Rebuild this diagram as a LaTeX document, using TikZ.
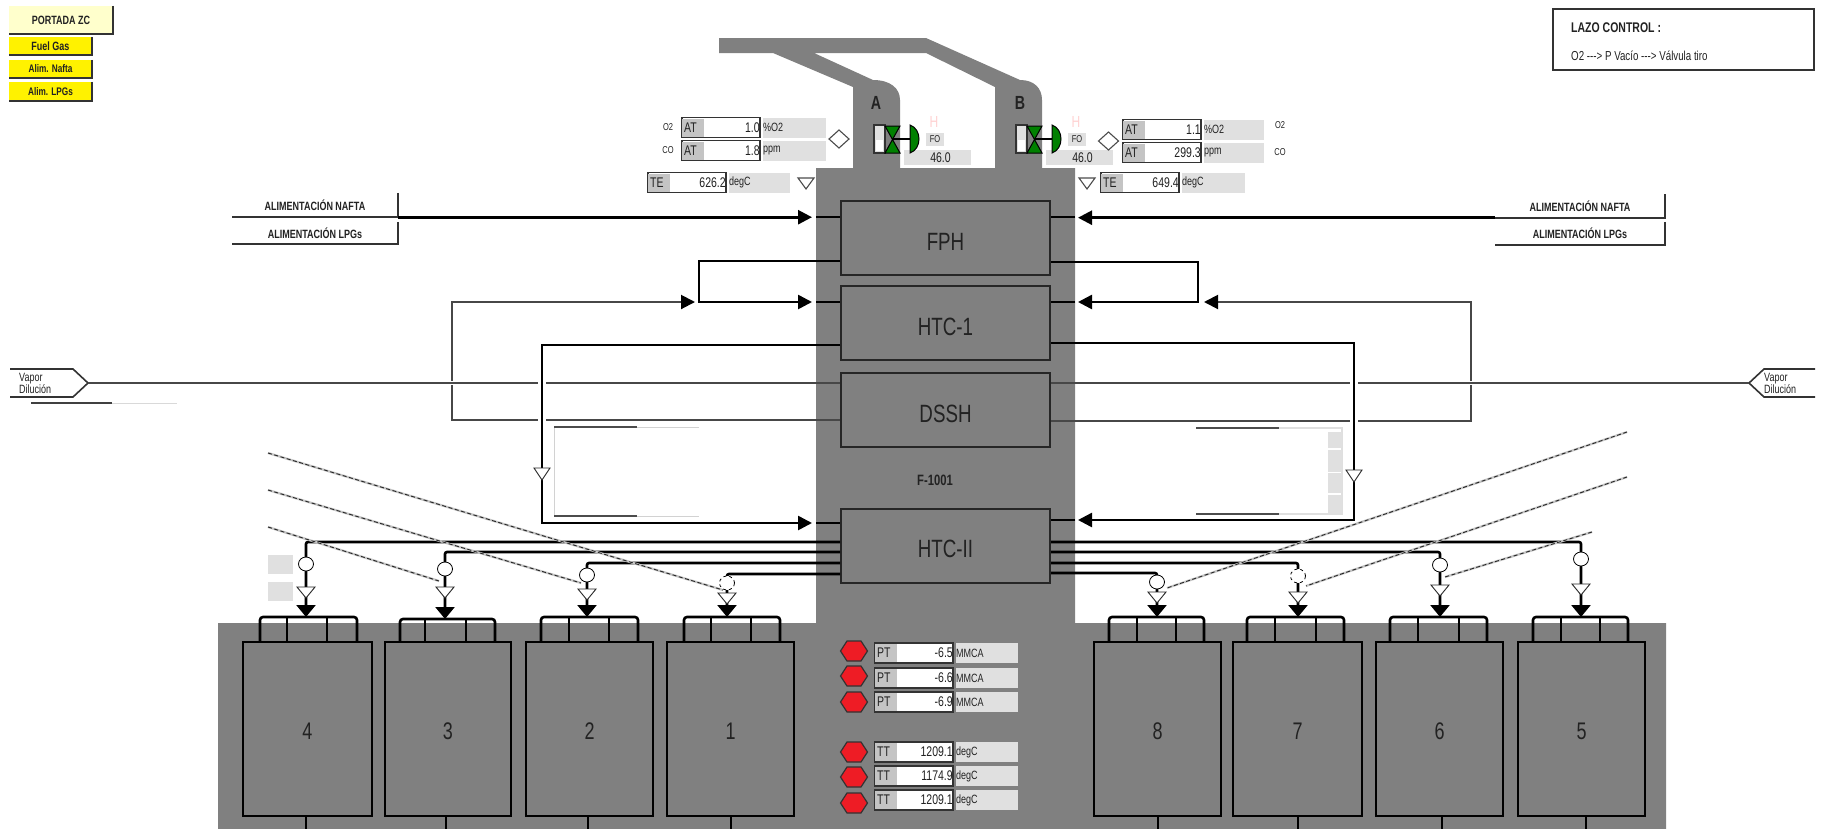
\documentclass[tikz,border=0pt]{standalone}
\usepackage{fontspec}
\usepackage{tikz}
\usetikzlibrary{arrows.meta,shapes.geometric}
\newfontfamily\narrowfont[FakeStretch=0.75]{Liberation Sans}
\definecolor{furnace}{HTML}{808080}
\definecolor{ink}{HTML}{222222}
\definecolor{panel}{HTML}{E0E0E0}
\definecolor{tagbg}{HTML}{C4C4C4}
\definecolor{cream}{HTML}{FFFFCC}
\definecolor{alarm}{HTML}{EE1C25}
\definecolor{valvegreen}{HTML}{008000}
\newcommand{\fsz}[1]{\narrowfont\fontsize{#1}{#1}\selectfont}
\tikzset{>=Latex,
  tip/.style={-{Triangle[length=14pt,width=14pt,fill=black,color=black]}},
  tipdown/.style={-{Triangle[length=12pt,width=19pt]}},
  pipe/.style={draw=black,line width=2.6pt},
  thin pipe/.style={draw=black!72,line width=2pt},
  diag/.style={draw=black!85,line width=0.9pt,dash pattern=on 4pt off 2.5pt,preaction={draw=gray!45,line width=2.2pt,solid}},
  coil/.style={draw=black!85,fill=furnace,line width=2pt,inner sep=0pt,minimum width=209pt,minimum height=74pt,text=ink,font=\fsz{25},text height=24pt,text depth=0pt},
  cell/.style={draw=black,fill=furnace,line width=2.4pt,inner sep=0pt,minimum height=174pt,text=ink,font=\fsz{24},text height=21pt,text depth=0pt},
  btn/.style={inner sep=0pt,font=\fsz{12}\bfseries,text=ink},
  ctrl/.style={ellipse,draw=black,fill=white,line width=0.8pt,minimum width=15pt,minimum height=14pt,inner sep=0pt},
  ctrldash/.style={ctrl,dashed},
  opentri/.style={draw=black!85,fill=white,line width=0.9pt},
  flag/.style={draw=black!70,fill=white,line width=1.1pt},
  lab/.style={inner sep=0pt,font=\fsz{13},text=ink},
  unitbg/.style={fill=panel,inner sep=0pt,anchor=west,minimum height=20pt,text=ink,font=\fsz{12},align=left},
  valbox/.style={draw=black!80,line width=1.5pt,fill=white,inner sep=0pt,anchor=west,minimum height=20pt,text width=78pt,align=right,text=ink,font=\fsz{14}}}
% name, x, y, tag, value, unit, unit width
\newcommand{\meterbox}[7]{
  \node[unitbg,text width=#7pt] (#1u) at (#2+82,#3) {#6};
  \node[valbox] (#1) at (#2,#3) {#5};
  \fill[tagbg] (#2+1,#3-9) rectangle (#2+23,#3+9);
  \node[lab,font=\fsz{14},anchor=west] (#1t) at (#2+3,#3) {#4};
}
\begin{document}
\begin{tikzpicture}[x=1pt,y=-1pt]
  \useasboundingbox (0,0) rectangle (1821,828);
  \fill[white] (0,0) rectangle (1821,828);
  % furnace body with stack
  \fill[furnace,even odd rule] (719,38)--(926,38)--(1020,80) .. controls (1034,80) and (1042,88) .. (1042,100)
    --(1042,168)--(1075,168)--(1075,623)--(1666,623)--(1666,832)--(218,832)--(218,623)--(816,623)--(816,168)
    --(853,168)--(853,87)--(773,53)--(719,53)--cycle
    (814,53)--(926,53)--(995,87)--(995,168)--(900,168)--(900,100) .. controls (900,88) and (890,80) .. (873,80)--cycle;
  \node[coil] (fph) at (945.5,238) {FPH};
  \node[coil] (htcone) at (945.5,323) {HTC-1};
  \node[coil] (dssh) at (945.5,410) {DSSH};
  \node[coil] (htctwo) at (945.5,545.5) {HTC-II};
  \node[lab,font=\fsz{15}\bfseries] (furnacename) at (935,480) {F-1001};
  \node[lab,font=\fsz{19}\bfseries] (stackA) at (876,103) {A};
  \node[lab,font=\fsz{19}\bfseries] (stackB) at (1020,103) {B};
  \coordinate (inL) at (812,0);
  \coordinate (edgeL) at (816,0);
  \coordinate (inR) at (1078,0);
  \coordinate (edgeR) at (1075,0);

  % buttons
  \node[btn,fill=cream,minimum width=104pt,minimum height=28pt] (portada) at (61,20) {PORTADA ZC};
  \node[btn,fill=yellow,minimum width=83pt,minimum height=18pt] (fuel) at (50.5,46) {Fuel Gas};
  \node[btn,fill=yellow,minimum width=83pt,minimum height=18pt,font=\fsz{11}\bfseries] (nafta) at (50.5,69) {Alim. Nafta};
  \node[btn,fill=yellow,minimum width=83pt,minimum height=19pt,font=\fsz{11}\bfseries] (lpg) at (50.5,91.5) {Alim. LPGs};
  \node[btn,fill=white,minimum width=166pt,minimum height=24pt,font=\fsz{12}\bfseries] (naftaL) at (315,205) {ALIMENTACIÓN NAFTA};
  \node[btn,fill=white,minimum width=166pt,minimum height=22pt,font=\fsz{12}\bfseries] (lpgL) at (315,233) {ALIMENTACIÓN LPGs};
  \node[btn,fill=white,minimum width=170pt,minimum height=23pt,font=\fsz{12}\bfseries] (naftaR) at (1580,206) {ALIMENTACIÓN NAFTA};
  \node[btn,fill=white,minimum width=170pt,minimum height=23pt,font=\fsz{12}\bfseries] (lpgR) at (1580,233.5) {ALIMENTACIÓN LPGs};
  \foreach \b in {portada,fuel,nafta,lpg,naftaL,lpgL,naftaR,lpgR}
    \draw[black!80,line width=1.8pt] (\b.north east)--(\b.south east)--(\b.south west);

  % control loop note
  \node[draw=black!80,line width=1.6pt,minimum width=261pt,minimum height=61pt,inner sep=0pt] (lazo) at (1683.5,39.5) {};
  \node[lab,font=\fsz{14}\bfseries,anchor=west] (lazotitle) at (1571,28) {LAZO CONTROL :};
  \node[lab,anchor=west] (lazotext) at (1571,56) {O2 -{}-{}-> P Vacío -{}-{}-> Válvula tiro};

  % steam tags
  \node[lab,font=\fsz{12},align=left,anchor=west] (vaporL) at (19,383) {Vapor\\Dilución};
  \node[lab,font=\fsz{12},align=left,anchor=west] (vaporR) at (1764,383) {Vapor\\Dilución};
  \coordinate (tagL) at (88,383);
  \coordinate (tagR) at (1749,383);
  \draw[black!80,line width=1.6pt] (10,369)--(73,369)--(tagL)--(73,397)--(10,397);
  \draw[black!80,line width=1.6pt] (1815,369)--(1764,369)--(tagR)--(1764,397)--(1815,397);
  \draw[black!75,line width=1.4pt] (31,403)--(112,403);
  \draw[gray!30,line width=1pt] (112,403)--(177,403);

  % faint frames
  \draw[gray!35,line width=1pt] (699,427)--(554,427)--(554,516)--(699,516);
  \draw[black!70,line width=1.6pt] (554,427)--(637,427) (554,516)--(637,516);
  \draw[gray!25,line width=1.5pt] (1279,428)--(1342,428)--(1342,514)--(1279,514);
  \draw[black!70,line width=1.6pt] (1196,428)--(1279,428) (1196,514)--(1279,514);
  \foreach \a/\b in {432/448,450/472,473/493,495/513}
    \fill[panel] (1328,\a) rectangle (1342,\b);
  \foreach \a/\b in {555/574,582/601}
    \fill[panel] (268,\a) rectangle (293,\b);

  % thin lines
  \draw[thin pipe,tip] (dssh.west |- 0,420) -| (452,302) -- (695,302);
  \draw[thin pipe,tip] (dssh.east |- 0,421) -| (1471,302) -- (1204,302);
  \draw[white,line width=4pt] (440,383)--(465,383) (1460,383)--(1482,383);
  \draw[thin pipe] (tagL) -- (dssh.west |- tagL);
  \draw[thin pipe] (tagR) -- (dssh.east |- tagR);

  % feed lines
  \draw[pipe,tip] (naftaL.south east) -- (inL |- naftaL.south east);
  \draw[pipe,tip] (naftaR.south west) -- (inR |- naftaR.south west);
  \foreach \bx/\yy in {fph/217,htcone/302,htctwo/523}
    \draw[pipe] (edgeL |- 0,\yy) -- (\bx.west |- 0,\yy);
  \foreach \bx/\yy in {fph/217,htcone/302,htctwo/520}
    \draw[pipe] (edgeR |- 0,\yy) -- (\bx.east |- 0,\yy);
  \draw[pipe,tip] (fph.west |- 0,261) -| (699,302) -- (inL |- 0,302);
  \draw[pipe,tip] (fph.east |- 0,262) -| (1198,302) -- (inR |- 0,302);

  % crossover
  \coordinate (crossL) at (542,523);
  \coordinate (crossR) at (1354,520);
  \draw[white,line width=8pt] (542,350)--(crossL) (1354,350)--(crossR);
  \draw[pipe,tip] (htcone.west |- 0,345) -| (crossL) -- (inL |- crossL);
  \draw[pipe,tip] (htcone.east |- 0,343) -| (crossR) -- (inR |- crossR);
  \foreach \x/\y in {542/468,1354/470}
    \draw[opentri] (\x-8,\y)--(\x+8,\y)--(\x,\y+12)--cycle;

  % cells 
  \foreach \n/\cx/\w/\sx/\la/\lb/\lc/\ld/\ty in {
    4/307.5/129/306/260/287/327/357/617,3/448/126/446/400/425/466/495/619,
    2/589.5/127/588/541/569/609/638/617,1/730.5/127/731/684/711/751/780/617,
    8/1157.5/127/1158/1109/1137/1176/1204/617,7/1297.5/129/1298/1247/1275/1316/1344/617,
    6/1439.5/127/1442/1390/1418/1459/1487/617,5/1581.5/127/1586/1533/1561/1600/1628/617}{
    \node[cell,minimum width=\w pt] (cell\n) at (\cx,729) {\n};
    \draw[pipe,rounded corners=3pt] (\la,642)--(\la,\ty)--(\ld,\ty)--(\ld,642);
    \draw[pipe] (\lb,\ty)--(\lb,642) (\lc,\ty)--(\lc,642);
    \draw[pipe] (\sx,816)--(\sx,832);
  }

  % coil outlets to burners
  \foreach \n/\cx/\yy/\sd/\ty in {4/306/542/west/617,3/445/552/west/619,2/587/563/west/617,1/727/574/west/617,
    5/1581/542/east/617,6/1440/552/east/617,7/1298/563/east/617,8/1157/573/east/617}
    \draw[pipe,tipdown,rounded corners=2pt] (htctwo.\sd |- 0,\yy) -| (\cx,\ty);

  % dashed signal lines
  \foreach \i/\ax/\ay/\bx/\by in {a/268/453/723/590,b/268/490/581/583,c/268/527/439/581,
    d/1627/432/1167/588,e/1627/477/1306/586,f/1592/532/1445/577}{
    \coordinate (sigA\i) at (\ax,\ay);
    \coordinate (sigB\i) at (\bx,\by);
    \draw[diag] (sigA\i) -- (sigB\i);
  }

  % burner valves
  \foreach \n/\cx/\cy/\ty/\st in {4/306/564/587/ctrl,3/445/569/587/ctrl,2/587/575/589/ctrl,1/727/583/593/ctrldash,
    5/1581/559/584/ctrl,6/1440/565/585/ctrl,7/1298/576/592/ctrldash,8/1157/582/592/ctrl}{
    \node[\st] (ctl\n) at (\cx,\cy) {};
    \draw[opentri] (\cx-9,\ty)--(\cx+9,\ty)--(\cx,\ty+11)--cycle;
  }

  % stack dampers
  \foreach \vx/\v in {874/A,1016/B}{
    \begin{scope}[shift={(\vx,0)}]
      \node[fill=panel,inner sep=0pt,minimum width=67pt,minimum height=15pt,text=ink,font=\fsz{14}] (pos\v) at (63.5,157.5) {\hspace{6pt}46.0};
      \fill[panel] (52,133) rectangle (70,146);
      \node[lab,font=\fsz{10}] (fo\v) at (61,139.5) {FO};
      \node[lab,font=\fsz{16},text=pink!70] (hi\v) at (60,122) {H};
      \draw[black!80,fill=panel,line width=1.2pt] (0,125) rectangle (11,153);
      \fill[white] (2,140) rectangle (9,151);
      \draw[black,fill=valvegreen,line width=1pt] (11,126)--(26,126)--(11,153)--(26,153)--cycle;
      \draw[black,line width=2pt] (19,139)--(36,139);
      \draw[black,fill=valvegreen,line width=1pt] (36,125) .. controls (48,129) and (48,149) .. (36,153)--cycle;
    \end{scope}
  }
  \foreach \x/\y in {839/139,1108.5/141}
    \draw[flag] (\x-10,\y)--(\x,\y-9)--(\x+10,\y)--(\x,\y+9)--cycle;
  \foreach \x in {806,1087}
    \draw[flag] (\x-8,178)--(\x+8,178)--(\x,189)--cycle;

  % analyzers
  \meterbox{atA}{681}{127.5}{AT}{1.0}{\%O2}{63}
  \meterbox{atB}{681}{150.5}{AT}{1.8}{ppm}{63}
  \meterbox{atC}{1122}{129.5}{AT}{1.1}{\%O2}{60}
  \meterbox{atD}{1122}{152.5}{AT}{299.3}{ppm}{60}
  \meterbox{teA}{647}{182.5}{TE}{626.2}{degC}{61}
  \meterbox{teB}{1100}{182.5}{TE}{649.4}{degC}{63}
  \node[lab,font=\fsz{10}] (oA) at (668,127) {O2};
  \node[lab,font=\fsz{10}] (coA) at (668,150) {CO};
  \node[lab,font=\fsz{10}] (oB) at (1280,125) {O2};
  \node[lab,font=\fsz{10}] (coB) at (1280,152) {CO};

  % alarms and draft / temperature readings
  \foreach \i/\yh/\y/\tg/\val/\un in {1/651/653/PT/-6.5/MMCA,2/676/678/PT/-6.6/MMCA,3/702/702/PT/-6.9/MMCA,
    4/752/752/TT/1209.1/degC,5/777/776/TT/1174.9/degC,6/803/800/TT/1209.1/degC}{
    \draw[black!80,fill=alarm,line width=1.2pt,shift={(854,\yh)}] (-13.5,0)--(-7,-10)--(7,-10)--(13.5,0)--(7,10)--(-7,10)--cycle;
    \meterbox{read\i}{874}{\y}{\tg}{\val}{\un}{62}
  }
\end{tikzpicture}
\end{document}
